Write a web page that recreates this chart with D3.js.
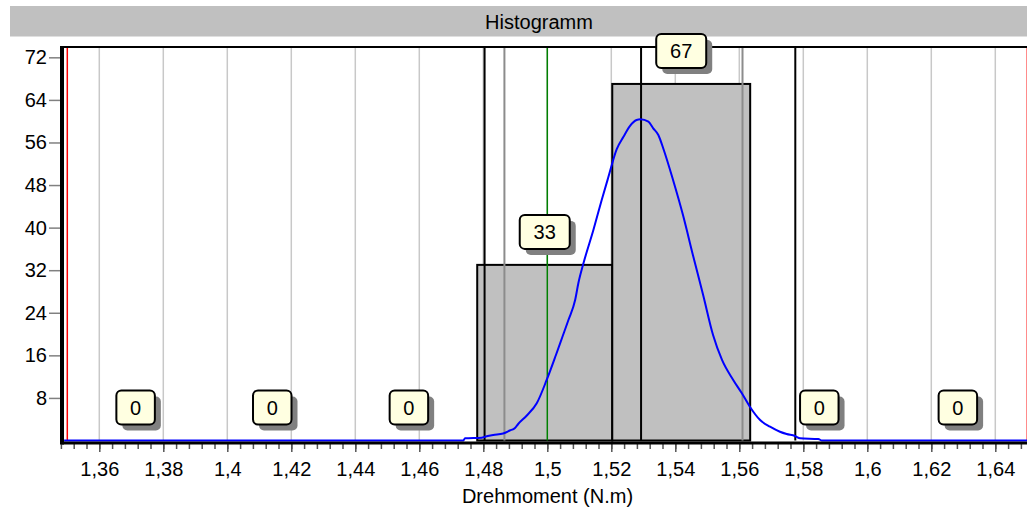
<!DOCTYPE html>
<html lang="de">
<head>
  <meta charset="UTF-8">
  <title>Histogramm</title>
  <script src="https://d3js.org/d3.v7.min.js"></script>
  <style>
    body { margin: 0; background: #fff; }
    svg { display: block; font-family: Arial, "Liberation Sans", sans-serif; }
  </style>
</head>
<body>
<div id="chart"></div>
<script>
  // histogram classes (N.m) and counts
  const binEdges = [1.35, 1.3927, 1.4354, 1.4781, 1.5203, 1.5634, 1.6066, 1.65];
  const binCounts = [0, 0, 0, 33, 67, 0, 0];

  // blue distribution curve
  const curveX = [1.349, 1.4737, 1.4743, 1.4795, 1.4805, 1.4831, 1.4862, 1.4883, 1.4899, 1.4909,
    1.4936, 1.4967, 1.4998, 1.5027, 1.5046, 1.5066, 1.5087, 1.5097, 1.5113, 1.5144,
    1.5170, 1.5190, 1.5217, 1.5238, 1.5258, 1.5279, 1.5291, 1.5316, 1.5331, 1.5347,
    1.5363, 1.5393, 1.5424, 1.5455, 1.5487, 1.5518, 1.5546, 1.5581, 1.5608, 1.5633,
    1.5665, 1.5696, 1.5727, 1.5748, 1.5774, 1.5790, 1.5847, 1.5858, 1.651];
  const curveY = [0, 0, 0.41, 0.53, 0.71, 1.03, 1.32, 1.88, 2.35, 3.10,
    4.70, 6.99, 11.37, 16.07, 19.26, 22.64, 26.40, 29.54, 33.30, 39.55,
    45.19, 49.32, 54.77, 57.08, 59.09, 60.22, 60.35, 59.90, 58.66, 57.40,
    54.77, 48.95, 42.37, 34.86, 27.34, 19.82, 15.13, 11.37, 8.87, 6.35,
    3.85, 2.59, 1.65, 1.22, 0.85, 0.41, 0.28, 0, 0];

  // vertical marker lines
  const specLimits = [1.35, 1.65];          // red
  const nominalValue = [1.5];               // green
  const blackLines = [1.4804, 1.5293, 1.5775];
  const grayLines = [1.4866, 1.5610];

  const xTicks = [1.36, 1.38, 1.40, 1.42, 1.44, 1.46, 1.48, 1.50, 1.52, 1.54, 1.56, 1.58, 1.60, 1.62, 1.64];
  const yTicks = [8, 16, 24, 32, 40, 48, 56, 64, 72];

  const width = 1027, height = 510;
  const plotLeft = 62, plotTop = 47, plotBottom = 440.5;
  const fontSize = "20px";

  let xScale = d3.scaleLinear().domain([1.36, 1.64]).range([99.3, 995.3]);
  let yScale = d3.scaleLinear().domain([0, 73.94]).range([plotBottom, plotTop]);

  let fmt = d => String(+d.toFixed(2)).replace(".", ",");

  let svg = d3.select("#chart").append("svg")
    .attr("width", width)
    .attr("height", height);

  // title band
  svg.append("rect").attr("x", 10).attr("y", 6).attr("width", 1100).attr("height", 30.5).attr("fill", "#c0c0c0");
  svg.append("text").attr("x", 539).attr("y", 28.5).attr("text-anchor", "middle")
    .style("font-size", fontSize).text("Histogramm");

  // grid lines
  svg.append("g").selectAll("line").data(xTicks).join("line")
    .attr("x1", d => xScale(d)).attr("x2", d => xScale(d))
    .attr("y1", plotTop).attr("y2", plotBottom)
    .attr("stroke", "#c8c8c8").attr("stroke-width", 1.5);

  // bars
  let bins = binCounts.map((c, i) => ({ x0: binEdges[i], x1: binEdges[i + 1], count: c }));
  svg.append("g").selectAll("rect").data(bins.filter(b => b.count > 0)).join("rect")
    .attr("x", d => xScale(d.x0))
    .attr("y", d => yScale(d.count))
    .attr("width", d => xScale(d.x1) - xScale(d.x0))
    .attr("height", d => yScale(0) - yScale(d.count))
    .attr("fill", "#c0c0c0")
    .attr("stroke", "black")
    .attr("stroke-width", 2);

  function vLines(values, color, w) {
    svg.append("g").selectAll("line").data(values).join("line")
      .attr("x1", d => xScale(d)).attr("x2", d => xScale(d))
      .attr("y1", plotTop).attr("y2", plotBottom)
      .attr("stroke", color).attr("stroke-width", w);
  }
  vLines(grayLines, "#8c8c8c", 2);
  vLines(blackLines, "black", 2);
  vLines(nominalValue, "#008000", 1.5);
  vLines(specLimits, "red", 1.5);

  // curve
  let line = d3.line()
    .x(d => xScale(d[0]))
    .y(d => yScale(d[1]))
    .curve(d3.curveMonotoneX);
  svg.append("path")
    .datum(curveX.map((x, i) => [x, curveY[i]]))
    .attr("d", line)
    .attr("fill", "none")
    .attr("stroke", "#0000ff")
    .attr("stroke-width", 2);

  // x axis: minor ticks, then major ticks with labels
  let minorTicks = d3.range(0, 76).map(i => 1.348 + i * 0.004).filter(v => v < 1.6505);
  let xMinor = svg.append("g").attr("transform", "translate(0,443)")
    .call(d3.axisBottom(xScale).tickValues(minorTicks).tickSize(6).tickFormat(""));
  xMinor.select(".domain").remove();
  xMinor.selectAll(".tick line").attr("stroke", "#555").attr("stroke-width", 1.5);

  let xAxis = svg.append("g").attr("transform", "translate(0,443)")
    .call(d3.axisBottom(xScale).tickValues(xTicks).tickSize(9).tickPadding(10).tickSizeOuter(0).tickFormat(fmt));
  xAxis.select(".domain").remove();
  xAxis.selectAll(".tick line").attr("stroke", "#555").attr("stroke-width", 1.5);
  xAxis.selectAll("text").style("font-size", fontSize).attr("fill", "black");
  svg.append("line").attr("x1", plotLeft).attr("x2", width).attr("y1", 443).attr("y2", 443)
    .attr("stroke", "black").attr("stroke-width", 3);

  svg.append("text").attr("x", 547.5).attr("y", 503).attr("text-anchor", "middle")
    .style("font-size", fontSize).text("Drehmoment (N.m)");

  // y axis
  let yAxis = svg.append("g").attr("transform", `translate(${plotLeft},0)`)
    .call(d3.axisLeft(yScale).tickValues(yTicks).tickSize(13).tickPadding(2).tickSizeOuter(0));
  yAxis.select(".domain").remove();
  yAxis.selectAll(".tick line").attr("stroke", "#808080").attr("stroke-width", 1.5);
  yAxis.selectAll("text").style("font-size", fontSize).attr("fill", "black");
  svg.append("line").attr("x1", plotLeft).attr("x2", plotLeft).attr("y1", plotTop - 1).attr("y2", 444.5)
    .attr("stroke", "black").attr("stroke-width", 4);

  // top border
  svg.append("line").attr("x1", plotLeft).attr("x2", width).attr("y1", plotTop).attr("y2", plotTop)
    .attr("stroke", "black").attr("stroke-width", 2);

  // count labels above each class
  let labels = svg.append("g").selectAll("g").data(bins).join("g")
    .attr("transform", d => `translate(${xScale((d.x0 + d.x1) / 2)},${yScale(d.count) - 33})`);
  let boxW = d => 27 + 11.5 * String(d.count).length;
  labels.append("rect")
    .attr("x", d => -boxW(d) / 2 + 6).attr("y", -17 + 6)
    .attr("width", boxW).attr("height", 34).attr("rx", 5)
    .attr("fill", "#808080");
  labels.append("rect")
    .attr("x", d => -boxW(d) / 2).attr("y", -17)
    .attr("width", boxW).attr("height", 34).attr("rx", 5)
    .attr("fill", "#ffffe1").attr("stroke", "black").attr("stroke-width", 2);
  labels.append("text")
    .attr("text-anchor", "middle").attr("y", 7)
    .style("font-size", fontSize)
    .text(d => d.count);
</script>
</body>
</html>
